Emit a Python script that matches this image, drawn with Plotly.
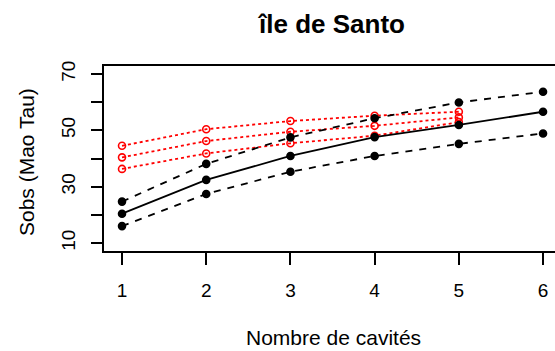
import plotly.graph_objects as go

x_black = [1, 2, 3, 4, 5, 6]
black_upper = [24.7, 38.1, 47.5, 54.3, 59.9, 63.7]
black_mid = [20.4, 32.4, 40.9, 47.6, 51.9, 56.6]
black_lower = [16.0, 27.4, 35.3, 40.9, 45.2, 48.9]

x_red = [1, 2, 3, 4, 5]
red_upper = [44.5, 50.4, 53.3, 55.2, 56.6]
red_mid = [40.4, 46.2, 49.5, 51.6, 54.6]
red_lower = [36.3, 41.8, 45.4, 48.1, 52.9]

y_tickvals = [10, 20, 30, 40, 50, 60, 70]
y_ticktext = ["10", "", "30", "", "50", "", "70"]
x_tickvals = [1, 2, 3, 4, 5, 6]

title = "île de Santo"
xlab = "Nombre de cavités"
ylab = "Sobs (Mao Tau)"

FONT = "Liberation Sans, Arial, sans-serif"

fig = go.Figure()

def add(x, y, color, dash, symbol):
    fig.add_trace(go.Scatter(
        x=x, y=y, mode="lines+markers",
        line=dict(color=color, width=1.8, dash=dash),
        marker=dict(symbol=symbol, size=7, color=color,
                    line=dict(color=color, width=1.6)),
        showlegend=False, hoverinfo="skip"))

for ys in (red_upper, red_mid, red_lower):
    add(x_red, ys, "#ff0000", "3px,3px", "circle-open")
add(x_black, black_upper, "black", "7px,7px", "circle")
add(x_black, black_mid, "black", "solid", "circle")
add(x_black, black_lower, "black", "7px,7px", "circle")

pa_w = 555 - 104
pa_h = 351 - 66 - 100
def px_x(px):
    return (px - 104) / pa_w
def px_y(py):
    return (351 - 100 - py) / pa_h

fig.update_layout(
    width=555, height=351,
    margin=dict(l=104, r=0, t=66, b=100),
    plot_bgcolor="white", paper_bgcolor="white",
    font=dict(family=FONT, color="black", size=19),
    xaxis=dict(range=[0.786, 6.142], tickvals=x_tickvals,
               showgrid=False, zeroline=False,
               showline=True, linecolor="black", linewidth=2, mirror=True,
               ticks="outside", ticklen=12, tickwidth=2, tickcolor="black",
               ticklabelstandoff=9,
               tickfont=dict(size=19)),
    yaxis=dict(range=[7.16, 72.84], tickvals=y_tickvals, ticktext=y_ticktext,
               showgrid=False, zeroline=False,
               showline=True, linecolor="black", linewidth=2, mirror=False,
               ticks="outside", ticklen=11, tickwidth=2, tickcolor="black",
               tickangle=-90, ticklabelstandoff=8,
               tickfont=dict(size=19)),
    annotations=[
        dict(text="<b>" + title + "</b>", x=px_x(331), y=px_y(24),
             xref="paper", yref="paper", xanchor="center", yanchor="middle",
             showarrow=False, font=dict(size=26)),
        dict(text=xlab, x=px_x(333), y=px_y(337),
             xref="paper", yref="paper", xanchor="center", yanchor="middle",
             showarrow=False, font=dict(size=21)),
        dict(text=ylab, x=px_x(26), y=px_y(162),
             xref="paper", yref="paper", xanchor="center", yanchor="middle",
             showarrow=False, textangle=-90, font=dict(size=21)),
    ],
)

fig.write_html("out.html")
